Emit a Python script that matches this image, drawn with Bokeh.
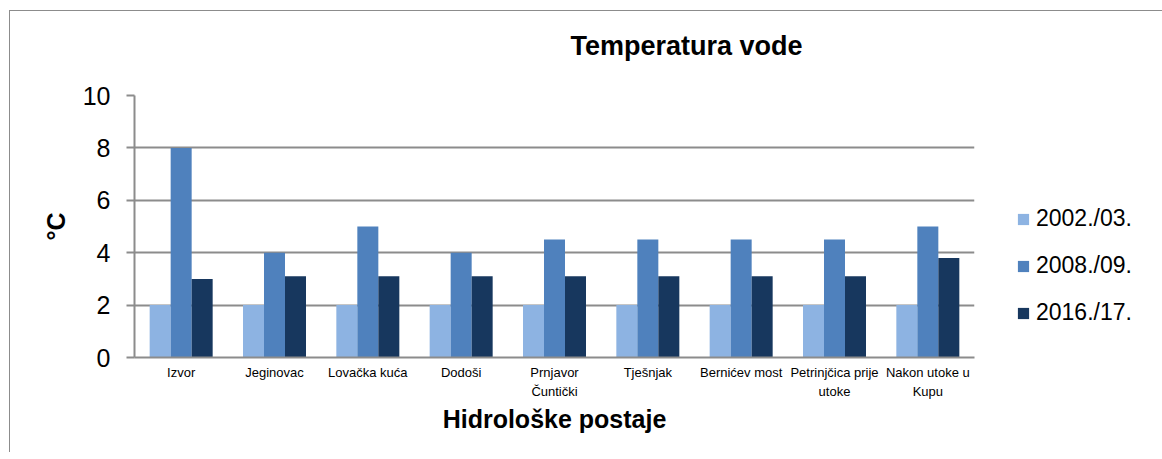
from bokeh.plotting import figure
from bokeh.models import FactorRange, Legend, LegendItem, FixedTicker, ColumnDataSource
from bokeh.transform import dodge
from bokeh.embed import file_html
from bokeh.resources import INLINE

stations = ["Izvor", "Jeginovac", "Lovačka kuća", "Dodoši", "Prnjavor Čuntički",
            "Tješnjak", "Bernićev most", "Petrinjčica prije utoke", "Nakon utoke u Kupu"]
label_line1 = ["Izvor", "Jeginovac", "Lovačka kuća", "Dodoši", "Prnjavor",
               "Tješnjak", "Bernićev most", "Petrinjčica prije", "Nakon utoke u"]
label_line2 = ["", "", "", "", "Čuntički", "", "", "utoke", "Kupu"]
series_names = ["2002./03.", "2008./09.", "2016./17."]
v2002 = [2, 2, 2, 2, 2, 2, 2, 2, 2]
v2008 = [8, 4, 5, 4, 4.5, 4.5, 4.5, 4.5, 5]
v2016 = [3.0, 3.1, 3.1, 3.1, 3.1, 3.1, 3.1, 3.1, 3.8]
y_ticks = [0, 2, 4, 6, 8, 10]

colors = ["#8DB3E2", "#4F81BD", "#17375E"]
FONT = "Liberation Sans"
GRAY = "#8C8C8C"

# two-level factors: inner = first text line, outer = second text line
# (empty second lines get unique blank strings so that every group is distinct)
outer = [t if t else " " * (i + 1) for i, t in enumerate(label_line2)]
factors = list(zip(outer, label_line1))

src = ColumnDataSource(dict(x=factors, name=stations, a=v2002, b=v2008, c=v2016))

p = figure(x_range=FactorRange(*factors, range_padding=0, group_padding=0, factor_padding=0),
           y_range=(0, 10),
           frame_width=840, frame_height=262, output_backend="svg", toolbar_location=None,
           min_border_left=124, min_border_right=176, min_border_top=83, min_border_bottom=95)
p.margin = (10, 0, 0, 9)
p.styles = {"border-top": "1px solid #8C8C8C", "border-left": "1px solid #8C8C8C"}
p.outline_line_color = None
p.background_fill_color = "white"
p.border_fill_color = "white"

w = 0.225
r1 = p.vbar(x=dodge("x", -w, range=p.x_range), top="a", width=w, source=src, color=colors[0], line_color=None)
r2 = p.vbar(x=dodge("x", 0, range=p.x_range), top="b", width=w, source=src, color=colors[1], line_color=None)
r3 = p.vbar(x=dodge("x", w, range=p.x_range), top="c", width=w, source=src, color=colors[2], line_color=None)

# Title
p.title.text = "Temperatura vode"
p.title.text_font = FONT
p.title.text_font_size = "27px"
p.title.text_font_style = "bold"
p.title.text_color = "black"
p.title.align = "left"
p.title.offset = 436
try:
    p.title.padding = (0, 0, 17, 35)  # left, right, top, bottom
    p.title.standoff = 0
except Exception:
    p.title.standoff = 52

# Y axis
p.yaxis.ticker = FixedTicker(ticks=y_ticks)
p.yaxis.major_label_text_font = FONT
p.yaxis.major_label_text_font_size = "25px"
p.yaxis.major_label_text_color = "black"
p.yaxis.axis_line_color = GRAY
p.yaxis.axis_line_width = 2
p.yaxis.major_tick_line_color = GRAY
p.yaxis.major_tick_line_width = 2
p.yaxis.major_tick_out = 8
p.yaxis.major_tick_in = 0
p.yaxis.minor_tick_line_color = None
p.yaxis.major_label_standoff = 16
p.yaxis.axis_label = "°C"
p.yaxis.axis_label_text_font = FONT
p.yaxis.axis_label_text_font_size = "25px"
p.yaxis.axis_label_text_font_style = "bold"
p.yaxis.axis_label_text_color = "black"
p.yaxis.axis_label_standoff = 10

# X axis
xa = p.xaxis[0]
xa.major_label_text_font = FONT
xa.major_label_text_font_size = "13px"
xa.major_label_text_color = "black"
xa.major_label_standoff = 1
xa.group_text_font = FONT
xa.group_text_font_size = "13px"
xa.group_text_font_style = "normal"
xa.group_text_color = "black"
xa.group_label_orientation = "parallel"
xa.separator_line_color = None
xa.axis_line_color = GRAY
xa.axis_line_width = 2
xa.major_tick_line_color = None
xa.minor_tick_line_color = None
xa.axis_label = "Hidrološke postaje"
xa.axis_label_text_font = FONT
xa.axis_label_text_font_size = "25px"
xa.axis_label_text_font_style = "bold"
xa.axis_label_text_color = "black"
xa.axis_label_standoff = 3

p.xgrid.grid_line_color = None
p.ygrid.grid_line_color = GRAY
p.ygrid.grid_line_width = 2
p.ygrid.ticker = FixedTicker(ticks=y_ticks)

legend = Legend(items=[LegendItem(label=series_names[0], renderers=[r1]),
                       LegendItem(label=series_names[1], renderers=[r2]),
                       LegendItem(label=series_names[2], renderers=[r3])],
                location=(42, 31), orientation="vertical")
legend.label_text_font = FONT
legend.label_text_font_size = "23px"
legend.label_text_color = "black"
legend.glyph_width = 14
legend.glyph_height = 14
legend.label_height = 23
legend.label_standoff = 6
legend.spacing = 20
legend.padding = 0
legend.margin = 0
legend.border_line_color = None
legend.background_fill_alpha = 0
p.add_layout(legend, "right")

open("out.html", "w").write(file_html(p, INLINE))
